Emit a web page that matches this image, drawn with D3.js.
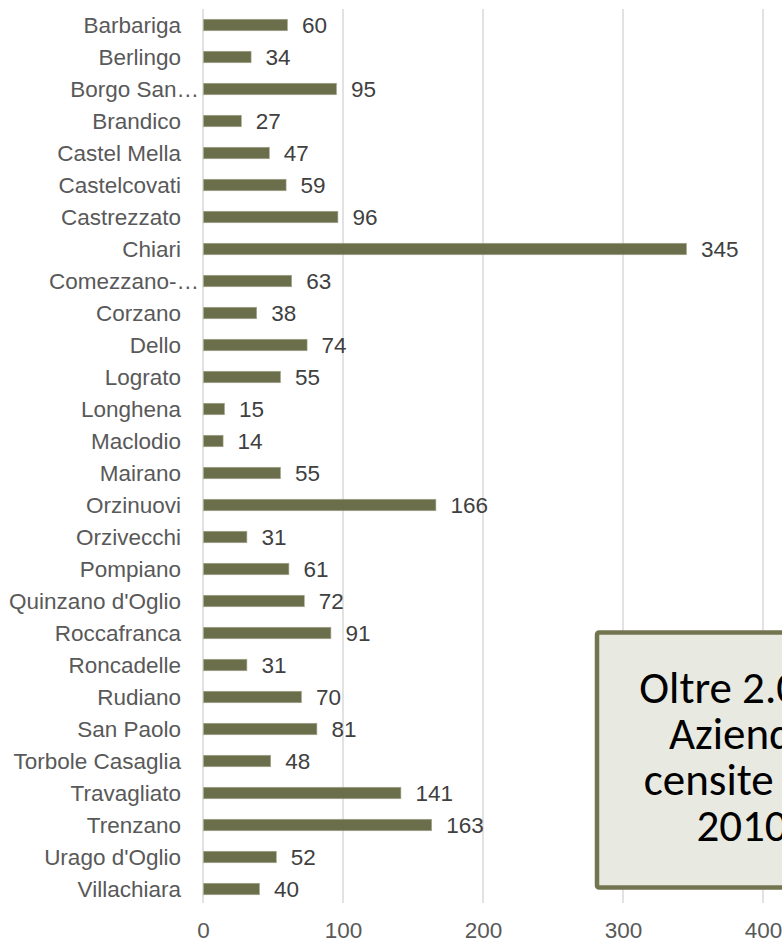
<!DOCTYPE html>
<html>
<head>
<meta charset="utf-8">
<script src="https://cdn.jsdelivr.net/npm/d3@7"></script>
<style>
html,body{margin:0;padding:0;background:#fff;overflow:hidden;}
svg{display:block;}
</style>
</head>
<body>
<svg id="chart" width="782" height="944"></svg>
<script>
const categories = ["Barbariga","Berlingo","Borgo San…","Brandico","Castel Mella","Castelcovati","Castrezzato","Chiari","Comezzano-…","Corzano","Dello","Lograto","Longhena","Maclodio","Mairano","Orzinuovi","Orzivecchi","Pompiano","Quinzano d'Oglio","Roccafranca","Roncadelle","Rudiano","San Paolo","Torbole Casaglia","Travagliato","Trenzano","Urago d'Oglio","Villachiara"];
const values = [60,34,95,27,47,59,96,345,63,38,74,55,15,14,55,166,31,61,72,91,31,70,81,48,141,163,52,40];
const tickValues = [0,100,200,300,400,500];
const boxLines = ["Oltre 2.000","Aziende","censite nel","2010"];

const svg = d3.select("#chart");
const fontFam = "'Liberation Sans', Arial, sans-serif";
const fs = 22.5;

const x = d3.scaleLinear().domain([0, 500]).range([203, 903]);
const y = d3.scaleBand().domain(categories).range([9, 905]).paddingInner(0.64).paddingOuter(0.32);

// gridlines
svg.append("g").selectAll("line").data(tickValues).join("line")
  .attr("x1", d => x(d)).attr("x2", d => x(d))
  .attr("y1", 9).attr("y2", 903)
  .attr("stroke", "#d9d9d9").attr("stroke-width", 1.5);

// bars
svg.append("g").selectAll("rect").data(values).join("rect")
  .attr("x", x(0) + 0.5)
  .attr("y", (d, i) => y(categories[i]))
  .attr("width", d => x(d) - x(0))
  .attr("height", y.bandwidth())
  .attr("fill", "#6b6e4a")
  .attr("stroke", "#a8aa92").attr("stroke-width", 0.6);

// value labels
svg.append("g").selectAll("text").data(values).join("text")
  .attr("x", d => x(d) + 15)
  .attr("y", (d, i) => y(categories[i]) + y.bandwidth() / 2)
  .attr("dy", "0.35em")
  .attr("font-family", fontFam).attr("font-size", fs)
  .attr("fill", "#404040")
  .text(d => d);

// category labels
svg.append("g").selectAll("text").data(categories).join("text")
  .attr("x", d => d.endsWith("…") ? 199 : 181)
  .attr("y", d => y(d) + y.bandwidth() / 2)
  .attr("dy", "0.35em")
  .attr("text-anchor", "end")
  .attr("font-family", fontFam).attr("font-size", fs)
  .attr("fill", "#595959")
  .text(d => d);

// x axis tick labels
const xAxis = d3.axisBottom(x).tickValues(tickValues).tickSize(0).tickPadding(0);
const ax = svg.append("g").attr("transform", "translate(0,920)").call(xAxis);
ax.select(".domain").remove();
ax.selectAll("text")
  .attr("font-family", fontFam).attr("font-size", fs)
  .attr("fill", "#595959").attr("dy", "0.78em");

// text box
const box = svg.append("g");
box.append("rect")
  .attr("x", 597).attr("y", 632.5).attr("width", 300).attr("height", 255)
  .attr("rx", 2)
  .attr("fill", "#e8e9e1").attr("stroke", "#72754f").attr("stroke-width", 4.5);
box.selectAll("text").data(boxLines).join("text")
  .attr("x", 742)
  .attr("y", (d, i) => 703 + i * 46)
  .attr("text-anchor", "middle")
  .attr("font-family", "Carlito, Calibri, 'Open Sans', sans-serif")
  .attr("font-size", 45)
  .attr("fill", "#000")
  .text(d => d);
</script>
</body>
</html>
